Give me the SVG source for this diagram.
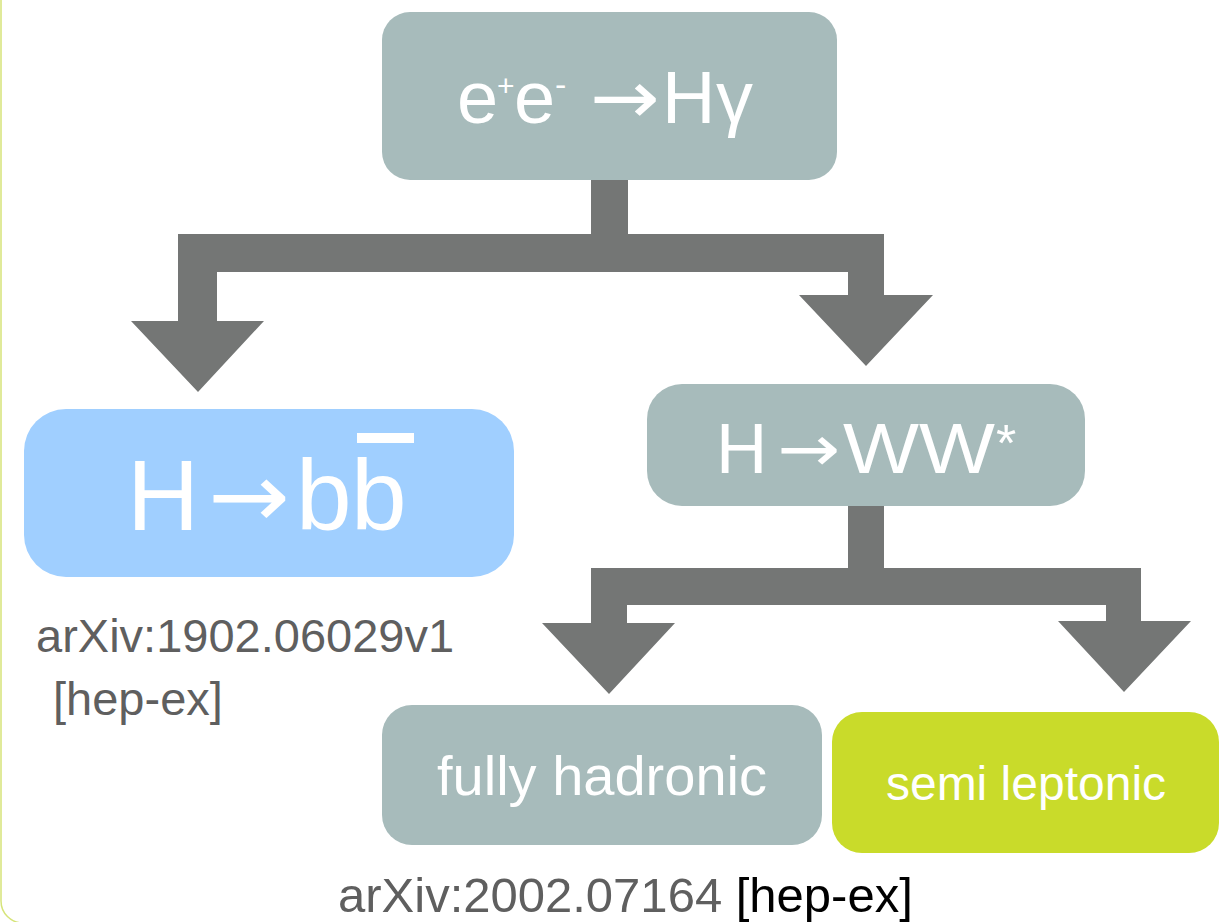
<svg xmlns="http://www.w3.org/2000/svg" width="1225" height="922" viewBox="0 0 1225 922">
<style>
.box{fill:#a7bbbb}
.blue{fill:#a0cfff}
.green{fill:#c9db2a}
.t{font-family:"Liberation Sans",Arial,sans-serif;fill:#ffffff}
.a{font-family:"DejaVu Sans",sans-serif;fill:#ffffff}
.arr{fill:#747675}
.ref{font-family:"Liberation Sans",Arial,sans-serif;fill:#5f5f5f}
</style>
<rect x="1" y="-100" width="1400" height="1023" rx="22" fill="#ffffff" stroke="#d6e47a" stroke-width="1.5"/>
<g id="connectors" class="arr">
  <polygon points="591,180 628,180 628,234 884,234 884,295 933,295 866,366 799,295 848,295 848,272 217,272 217,321 264,321 198,392 131,321 178,321 178,234 591,234"/>
  <polygon points="848,506 884,506 884,568 1141,568 1141,621 1191,621 1124,692 1058,621 1106,621 1106,605 627,605 627,623 675,623 609,694 542,623 591,623 591,568 848,568"/>
</g>
<g id="node-top">
  <rect class="box" x="382" y="12" width="455" height="168" rx="28"/>
  <text class="t" font-size="74" y="123"><tspan x="457">e</tspan><tspan x="497" y="96" font-size="30">+</tspan><tspan x="514" y="123">e</tspan><tspan x="555" y="96" font-size="34">-</tspan></text>
  <text class="a" font-size="74" x="590" y="123" textLength="70" lengthAdjust="spacingAndGlyphs">→</text>
  <text class="t" font-size="74" y="123"><tspan x="662">H</tspan><tspan x="716">γ</tspan></text>
</g>
<g id="node-hbb">
  <rect class="blue" x="24" y="409" width="490" height="168" rx="42"/>
  <text class="t" font-size="100" x="127" y="530">H</text>
  <text class="a" font-size="90" x="208" y="527" textLength="82" lengthAdjust="spacingAndGlyphs">→</text>
  <text class="t" font-size="100" y="530"><tspan x="296">b</tspan><tspan x="351">b</tspan></text>
  <rect x="357" y="433" width="57" height="10" fill="#ffffff"/>
</g>
<g id="ref-1">
  <text class="ref" font-size="47" x="36" y="652">arXiv:1902.06029v1</text>
  <text class="ref" font-size="47" x="53" y="715">[hep-ex]</text>
</g>
<g id="node-hww">
  <rect class="box" x="647" y="384" width="438" height="122" rx="35"/>
  <text class="t" font-size="71" x="716" y="473">H</text>
  <text class="a" font-size="64" x="777" y="471" textLength="63" lengthAdjust="spacingAndGlyphs">→</text>
  <text class="t" font-size="71" x="843" y="473" textLength="152" lengthAdjust="spacingAndGlyphs">WW</text>
  <text class="t" font-size="52" x="996" y="461">*</text>
</g>
<g id="node-hadronic">
  <rect class="box" x="382" y="705" width="440" height="140" rx="30"/>
  <text class="t" font-size="56" x="602" y="795" text-anchor="middle">fully hadronic</text>
</g>
<g id="node-leptonic">
  <rect class="green" x="832" y="712" width="387" height="141" rx="30"/>
  <text class="t" font-size="48" x="1026" y="800" text-anchor="middle">semi leptonic</text>
</g>
<g id="ref-2">
  <text font-family="Liberation Sans, Arial, sans-serif" font-size="49" x="338" y="912"><tspan fill="#5f5f5f">arXiv:2002.07164 </tspan><tspan fill="#000000">[hep-ex]</tspan></text>
</g>
</svg>
